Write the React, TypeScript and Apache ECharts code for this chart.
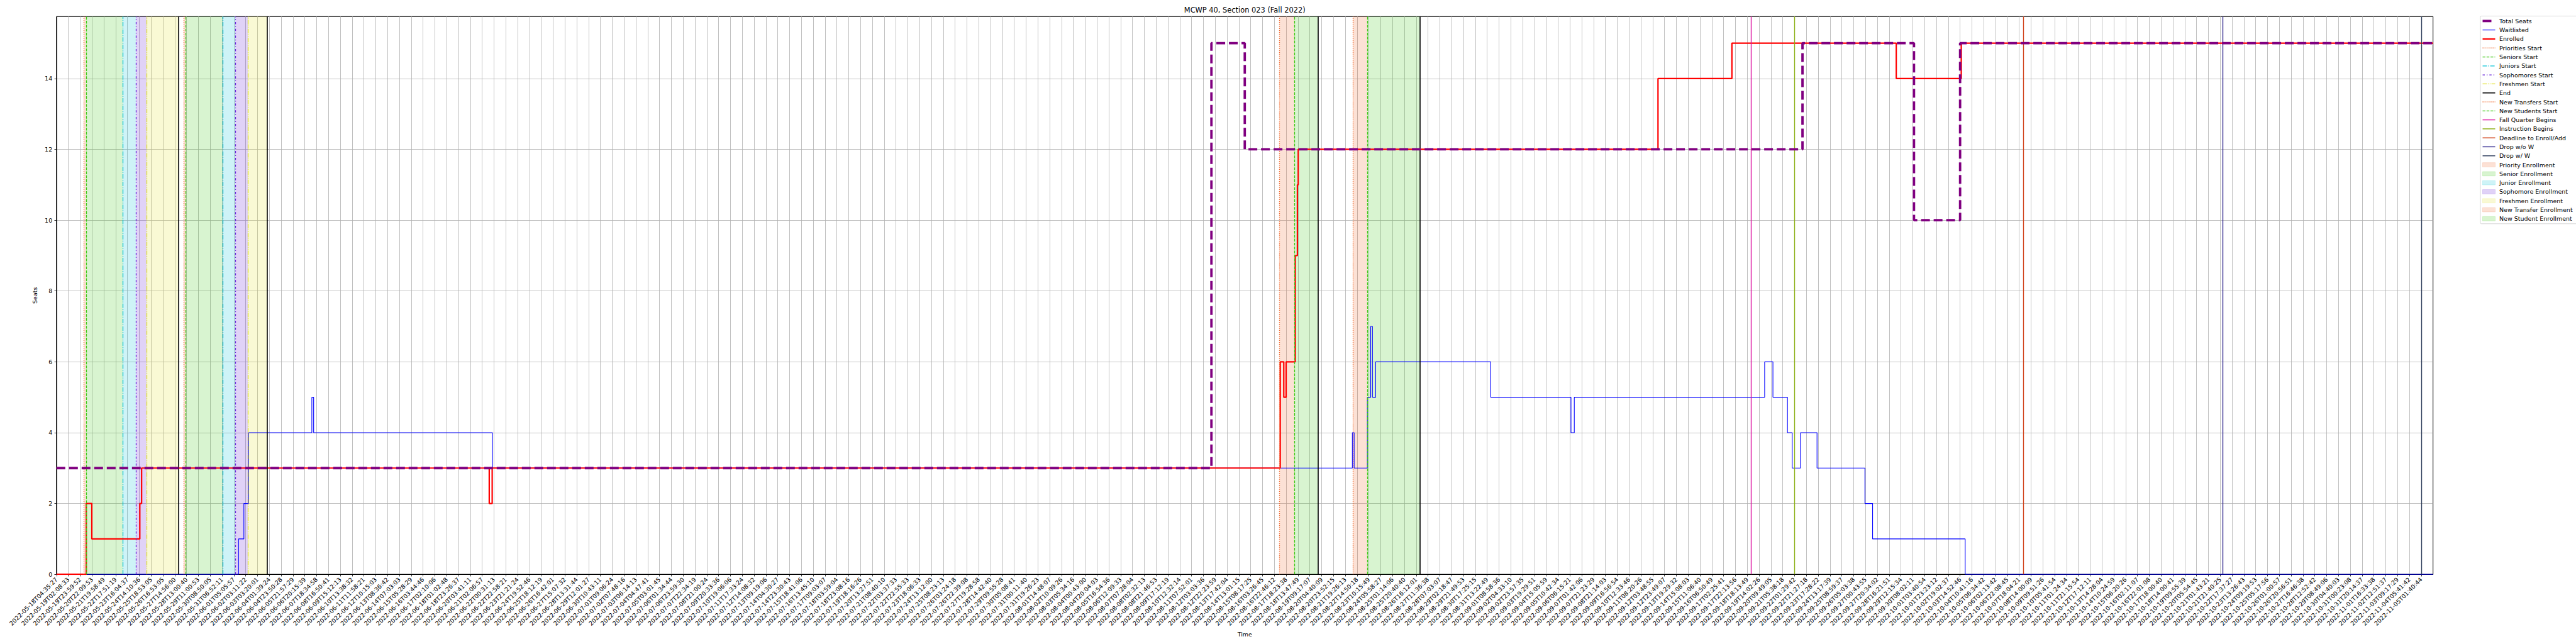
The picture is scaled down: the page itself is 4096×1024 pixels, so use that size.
import React, { useEffect, useRef } from "react";
import * as echarts from "echarts";

// ---------- data ----------
const tickLabels: string[] = [
  "2022-05-18T04:35:27", "2022-05-19T02:08:33", "2022-05-19T23:59:52", "2022-05-20T22:09:53", "2022-05-21T19:58:49",
  "2022-05-22T17:51:19", "2022-05-23T16:04:37", "2022-05-24T14:10:36", "2022-05-25T18:53:05", "2022-05-26T16:53:05",
  "2022-05-27T14:56:00", "2022-05-28T13:00:40", "2022-05-29T11:00:53", "2022-05-30T08:50:05", "2022-05-31T06:52:11",
  "2022-06-01T05:05:57", "2022-06-02T03:11:22", "2022-06-03T03:20:01", "2022-06-04T01:39:24", "2022-06-04T23:50:28",
  "2022-06-05T21:57:29", "2022-06-06T20:15:39", "2022-06-07T18:34:58", "2022-06-08T16:50:41", "2022-06-09T15:12:13",
  "2022-06-10T13:38:32", "2022-06-11T11:58:21", "2022-06-12T10:15:03", "2022-06-13T08:36:42", "2022-06-14T07:03:03",
  "2022-06-15T05:28:29", "2022-06-16T03:44:46", "2022-06-17T02:10:06", "2022-06-18T01:02:48", "2022-06-18T23:26:37",
  "2022-06-20T03:41:11", "2022-06-21T02:06:57", "2022-06-22T00:31:13", "2022-06-22T22:58:21", "2022-06-23T21:21:24",
  "2022-06-24T19:52:46", "2022-06-25T18:12:19", "2022-06-26T16:42:01", "2022-06-27T15:07:32", "2022-06-28T13:31:44",
  "2022-06-29T12:01:27", "2022-06-30T10:43:11", "2022-07-01T09:06:24", "2022-07-02T07:48:16", "2022-07-03T06:14:13",
  "2022-07-04T04:47:41", "2022-07-05T03:01:45", "2022-07-06T01:34:44", "2022-07-06T23:59:30", "2022-07-07T22:34:19",
  "2022-07-08T21:00:24", "2022-07-09T20:33:36", "2022-07-10T19:06:06", "2022-07-11T17:33:24", "2022-07-12T14:08:32",
  "2022-07-13T09:19:06", "2022-07-14T04:30:27", "2022-07-14T23:30:43", "2022-07-15T18:41:06", "2022-07-16T13:45:10",
  "2022-07-17T09:03:07", "2022-07-18T03:59:04", "2022-07-18T23:08:16", "2022-07-19T18:16:26", "2022-07-20T13:27:51",
  "2022-07-21T08:40:10", "2022-07-22T03:37:33", "2022-07-22T22:55:33", "2022-07-23T18:06:33", "2022-07-24T13:12:00",
  "2022-07-25T08:23:13", "2022-07-26T03:24:18", "2022-07-26T22:39:08", "2022-07-27T19:28:58", "2022-07-28T14:42:40",
  "2022-07-29T09:55:28", "2022-07-30T05:08:41", "2022-07-31T00:11:40", "2022-07-31T19:26:23", "2022-08-01T14:48:07",
  "2022-08-02T10:09:26", "2022-08-03T05:34:16", "2022-08-04T00:43:00", "2022-08-04T20:04:03", "2022-08-05T16:54:36",
  "2022-08-06T12:09:33", "2022-08-07T07:28:04", "2022-08-08T02:32:13", "2022-08-08T21:46:53", "2022-08-09T17:12:19",
  "2022-08-10T12:32:14", "2022-08-11T07:52:01", "2022-08-12T03:03:36", "2022-08-12T22:23:59", "2022-08-13T17:42:04",
  "2022-08-14T13:01:15", "2022-08-15T08:17:25", "2022-08-16T03:26:45", "2022-08-16T22:46:12", "2022-08-17T18:23:38",
  "2022-08-18T13:47:49", "2022-08-19T09:17:07", "2022-08-20T04:40:09", "2022-08-20T23:52:15", "2022-08-21T19:26:13",
  "2022-08-22T14:50:18", "2022-08-23T10:15:49", "2022-08-24T05:58:27", "2022-08-25T01:14:06", "2022-08-25T20:40:40",
  "2022-08-26T16:12:01", "2022-08-27T11:36:38", "2022-08-28T07:03:07", "2022-08-29T02:18:47", "2022-08-29T21:49:53",
  "2022-08-30T17:25:15", "2022-08-31T13:22:49", "2022-09-01T08:58:36", "2022-09-02T04:33:10", "2022-09-02T23:57:35",
  "2022-09-03T19:29:51", "2022-09-04T15:05:59", "2022-09-05T10:42:34", "2022-09-06T06:15:21", "2022-09-07T01:42:06",
  "2022-09-07T21:23:29", "2022-09-08T21:14:03", "2022-09-09T16:56:54", "2022-09-10T12:33:46", "2022-09-11T08:20:26",
  "2022-09-12T03:48:55", "2022-09-12T23:49:07", "2022-09-13T19:29:32", "2022-09-14T15:08:03", "2022-09-15T11:06:40",
  "2022-09-16T06:50:49", "2022-09-17T02:25:41", "2022-09-17T22:13:56", "2022-09-18T18:13:49", "2022-09-19T14:02:26",
  "2022-09-20T09:49:05", "2022-09-21T05:38:18", "2022-09-22T01:29:42", "2022-09-22T21:27:18", "2022-09-23T17:28:22",
  "2022-09-24T13:17:39", "2022-09-25T08:59:37", "2022-09-26T05:03:38", "2022-09-27T00:43:55", "2022-09-27T20:34:02",
  "2022-09-28T16:21:51", "2022-09-29T12:15:34", "2022-09-30T08:02:11", "2022-10-01T03:40:54", "2022-10-01T23:23:12",
  "2022-10-02T19:02:37", "2022-10-03T14:52:46", "2022-10-04T10:41:16", "2022-10-05T06:34:42", "2022-10-06T02:13:42",
  "2022-10-06T22:08:45", "2022-10-07T18:04:21", "2022-10-08T14:00:09", "2022-10-09T09:51:26", "2022-10-10T05:41:54",
  "2022-10-11T01:24:34", "2022-10-11T21:15:54", "2022-10-12T17:12:11", "2022-10-13T14:28:04", "2022-10-14T10:24:59",
  "2022-10-15T06:20:26", "2022-10-16T02:11:07", "2022-10-16T22:01:08", "2022-10-17T18:00:40", "2022-10-18T14:00:41",
  "2022-10-19T09:55:39", "2022-10-20T05:54:45", "2022-10-21T01:43:21", "2022-10-21T21:40:25", "2022-10-22T17:37:27",
  "2022-10-23T13:26:43", "2022-10-24T09:19:53", "2022-10-25T05:17:56", "2022-10-26T01:00:57", "2022-10-26T20:56:51",
  "2022-10-27T16:46:38", "2022-10-28T12:52:42", "2022-10-29T08:49:06", "2022-10-30T04:40:03", "2022-10-31T00:23:08",
  "2022-10-31T20:14:37", "2022-11-01T16:33:38", "2022-11-02T12:51:37", "2022-11-03T09:17:29", "2022-11-04T05:41:42",
  "2022-11-05T01:40:44",
];

// step change points: [position in tick units, seats]
const totalSeats: number[][] = [
  [0, 3], [97.68, 15], [100.5, 12], [147.67, 15], [157.1, 10], [161.0, 15], [201, 15],
];
const waitlisted: number[][] = [
  [0, 0], [15.4, 1], [15.85, 2], [16.25, 4], [21.6, 5], [21.75, 4], [36.87, 3],
  [109.6, 4], [109.75, 3], [110.87, 5], [111.15, 7], [111.3, 5], [111.57, 6],
  [121.3, 5], [128.09, 4], [128.37, 5], [144.47, 6], [145.17, 5], [146.4, 4],
  [146.8, 3], [147.5, 4], [148.9, 3], [152.95, 2], [153.6, 1], [161.43, 0], [201, 0],
];
const enrolled: number[][] = [
  [0, 0], [2.52, 2], [2.99, 1], [7.05, 2], [7.2, 3], [36.6, 2], [36.85, 3],
  [103.5, 6], [103.8, 5], [104.0, 6], [104.77, 9], [104.95, 11], [105.02, 12],
  [135.45, 14], [141.7, 15], [155.6, 14], [161.1, 15], [201, 15],
];

// event lines (tick units)
const prioritiesStart = [2.33, 10.76];
const seniorsStart = [2.5, 10.93];
const juniorsStart = [5.62, 14.04];
const sophomoresStart = [6.71, 15.13];
const freshmenStart = [7.62, 16.19];
const endLines = [10.3, 17.82, 106.7, 115.33];
const newTransfersStart = [103.44, 109.64];
const newStudentsStart = [104.71, 110.87];
const fallQuarterBegins = [143.33];
const instructionBegins = [146.98];
const deadlineEnrollAdd = [166.36];
const dropWithoutW = [183.2];
const dropWithW = [200.0];

// shaded periods
const priorityEnrollment = [[2.33, 2.5], [10.76, 10.93]];
const seniorEnrollment = [[2.5, 5.62], [10.93, 14.04]];
const juniorEnrollment = [[5.62, 6.71], [14.04, 15.13]];
const sophomoreEnrollment = [[6.71, 7.62], [15.13, 16.19]];
const freshmenEnrollment = [[7.62, 10.3], [16.19, 17.82]];
const newTransferEnrollment = [[103.44, 104.71], [109.64, 110.87]];
const newStudentEnrollment = [[104.71, 106.7], [110.87, 115.33]];

const yTicks = [0, 2, 4, 6, 8, 10, 12, 14];

// ---------- styles ----------
const FONT = "DejaVu Sans";
const DOT = [1.3, 1.9];
const DASH = [4.4, 1.9];
const DASHDOT = [7, 1.9, 1.3, 1.9];
const SOPH = [3.5, 3, 1.3, 3];
const FRESH = [7, 1.5, 1.3, 1.5, 1.3, 1.5];

const C_PRI = "#ef6a2f";
const C_SEN = "#3cc814";
const C_JUN = "#0ac4d6";
const C_SOP = "#6420d8";
const C_FRE = "#e0e028";

const vlines = [
  { name: "Priorities Start", xs: prioritiesStart, color: C_PRI, width: 1.3, dash: DOT },
  { name: "Seniors Start", xs: seniorsStart, color: C_SEN, width: 1.3, dash: DASH },
  { name: "Juniors Start", xs: juniorsStart, color: C_JUN, width: 1.3, dash: DASHDOT },
  { name: "Sophomores Start", xs: sophomoresStart, color: C_SOP, width: 1.3, dash: SOPH },
  { name: "Freshmen Start", xs: freshmenStart, color: C_FRE, width: 1.3, dash: FRESH },
  { name: "End", xs: endLines, color: "#000000", width: 1.6, dash: "solid" as any },
  { name: "New Transfers Start", xs: newTransfersStart, color: C_PRI, width: 1.3, dash: DOT },
  { name: "New Students Start", xs: newStudentsStart, color: C_SEN, width: 1.3, dash: DASH },
  { name: "Fall Quarter Begins", xs: fallQuarterBegins, color: "#dc14a0", width: 1.4, dash: "solid" as any },
  { name: "Instruction Begins", xs: instructionBegins, color: "#8caf14", width: 1.4, dash: "solid" as any },
  { name: "Deadline to Enroll/Add", xs: deadlineEnrollAdd, color: "#d2461e", width: 1.4, dash: "solid" as any },
  { name: "Drop w/o W", xs: dropWithoutW, color: "#2d238c", width: 1.4, dash: "solid" as any },
  { name: "Drop w/ W", xs: dropWithW, color: "#2d3c5a", width: 1.4, dash: "solid" as any },
];

const areas = [
  { name: "Priority Enrollment", ranges: priorityEnrollment, rgb: "239,106,47" },
  { name: "Senior Enrollment", ranges: seniorEnrollment, rgb: "60,200,20" },
  { name: "Junior Enrollment", ranges: juniorEnrollment, rgb: "10,196,214" },
  { name: "Sophomore Enrollment", ranges: sophomoreEnrollment, rgb: "100,32,216" },
  { name: "Freshmen Enrollment", ranges: freshmenEnrollment, rgb: "224,224,40" },
  { name: "New Transfer Enrollment", ranges: newTransferEnrollment, rgb: "239,106,47" },
  { name: "New Student Enrollment", ranges: newStudentEnrollment, rgb: "60,200,20" },
];

const dataLines = [
  { name: "Total Seats", color: "#800080", width: 3.8, dash: [14, 6] },
  { name: "Waitlisted", color: "#0000ff", width: 1.1, dash: "solid" as any },
  { name: "Enrolled", color: "#ff0000", width: 2.2, dash: "solid" as any },
];

export default function App() {
  const ref = useRef<HTMLDivElement>(null);

  useEffect(() => {
    document.body.style.margin = "0";
    const chart = echarts.init(ref.current!, null, { renderer: "svg" });
    const xMax = tickLabels.length; // right edge of the axes

    const gridLeft = 89.8;
    const gridTop = 26.3;
    const gridRight = 4096 - 3868.7;
    const gridBottom = 1024 - 913.2;

    const series: any[] = [];

    areas.forEach((a) => {
      series.push({
        name: a.name,
        type: "line",
        data: [],
        silent: true,
        markArea: {
          silent: true,
          itemStyle: { color: `rgba(${a.rgb},0.2)` },
          data: a.ranges.map(([s, e]) => [{ xAxis: s }, { xAxis: e }]),
        },
      });
    });

    series.push({
      name: "Waitlisted",
      type: "line",
      step: "end",
      data: waitlisted,
      showSymbol: false,
      symbol: "none",
      z: 3,
      lineStyle: { color: "#0000ff", width: 1.1 },
    });
    series.push({
      name: "Enrolled",
      type: "line",
      step: "end",
      data: enrolled,
      showSymbol: false,
      symbol: "none",
      z: 4,
      lineStyle: { color: "#ff0000", width: 2.2 },
    });
    series.push({
      name: "Total Seats",
      type: "line",
      step: "end",
      data: totalSeats,
      showSymbol: false,
      symbol: "none",
      z: 5,
      lineStyle: { color: "#800080", width: 3.8, type: [14, 6], cap: "butt" },
    });

    vlines.forEach((v) => {
      series.push({
        name: v.name,
        type: "line",
        data: [],
        silent: true,
        markLine: {
          silent: true,
          symbol: ["none", "none"],
          label: { show: false },
          emphasis: { disabled: true },
          lineStyle: { color: v.color, width: v.width, type: v.dash, cap: "butt" },
          data: v.xs.map((x) => ({ xAxis: x })),
        },
      });
    });

    // legend built from graphic elements
    const legendEntries: any[] = [
      ...dataLines.map((d) => ({ kind: "line", name: d.name, color: d.color, width: d.width, dash: d.dash })),
      ...vlines.map((v) => ({ kind: "line", name: v.name, color: v.color, width: v.width, dash: v.dash })),
      ...areas.map((a) => ({ kind: "rect", name: a.name, rgb: a.rgb })),
    ];
    const lgX = 3943.8;
    const lgY = 25.5;
    const rowH = 14.29;
    const firstY = 33.4;
    const hx1 = 3947.5;
    const hx2 = 3967.5;
    const tx = 3974;
    const graphics: any[] = [
      {
        type: "rect",
        shape: { x: lgX, y: lgY, width: 220, height: firstY - lgY + rowH * (legendEntries.length - 1) + 8, r: 2 },
        style: { fill: "rgba(255,255,255,0.8)", stroke: "#cccccc", lineWidth: 0.8 },
        z: 100,
      },
    ];
    legendEntries.forEach((e, i) => {
      const yc = firstY + rowH * i;
      if (e.kind === "line") {
        graphics.push({
          type: "line",
          shape: { x1: hx1, y1: yc, x2: hx2, y2: yc },
          style: {
            stroke: e.color,
            lineWidth: e.width,
            lineDash: Array.isArray(e.dash) ? e.dash : null,
            lineCap: "butt",
          },
          z: 101,
        });
      } else {
        graphics.push({
          type: "rect",
          shape: { x: hx1, y: yc - 3.4, width: hx2 - hx1, height: 6.8 },
          style: { fill: `rgba(${e.rgb},0.2)`, stroke: `rgba(${e.rgb},0.25)`, lineWidth: 0.7 },
          z: 101,
        });
      }
      graphics.push({
        type: "text",
        x: tx,
        y: yc,
        style: {
          text: e.name,
          fontFamily: FONT,
          fontSize: 9.5,
          fill: "#000",
          textVerticalAlign: "middle",
          verticalAlign: "middle",
        },
        z: 101,
      });
    });
    graphics.push({
      type: "text",
      x: (gridLeft + 3868.7) / 2,
      y: 16,
      style: {
        text: "MCWP 40, Section 023 (Fall 2022)",
        fontFamily: FONT,
        fontSize: 11.4,
        fill: "#000",
        textAlign: "center",
        align: "center",
        textVerticalAlign: "middle",
        verticalAlign: "middle",
      },
    });

    const option: any = {
      animation: false,
      backgroundColor: "#ffffff",
      textStyle: { fontFamily: FONT },
      grid: {
        left: gridLeft,
        top: gridTop,
        right: gridRight,
        bottom: gridBottom,
        show: true,
        borderColor: "#000",
        borderWidth: 1,
        backgroundColor: "transparent",
        containLabel: false,
      },
      xAxis: {
        type: "value",
        min: 0,
        max: xMax,
        interval: 1,
        name: "Time",
        nameLocation: "middle",
        nameGap: 89,
        nameTextStyle: { fontFamily: FONT, fontSize: 9.5, color: "#000" },
        axisLine: { show: true, lineStyle: { color: "#000", width: 1 } },
        axisTick: {
          show: true,
          length: 3.3,
          lineStyle: { color: "#000", width: 0.8 },
          customValues: tickLabels.map((_, i) => i),
        },
        axisLabel: {
          show: true,
          rotate: 45,
          margin: 6.6,
          fontFamily: FONT,
          fontSize: 9.5,
          color: "#000",
          customValues: tickLabels.map((_, i) => i),
          formatter: (v: number) => {
            const i = Math.round(v);
            return Math.abs(v - i) < 1e-6 && i >= 0 && i < tickLabels.length ? tickLabels[i] : "";
          },
        },
        splitLine: { show: true, lineStyle: { color: "#b0b0b0", width: 0.8 } },
      },
      yAxis: {
        type: "value",
        min: 0,
        max: 15.75,
        interval: 2,
        name: "Seats",
        nameLocation: "middle",
        nameGap: 22,
        nameTextStyle: { fontFamily: FONT, fontSize: 9.5, color: "#000" },
        axisLine: { show: true, lineStyle: { color: "#000", width: 1 } },
        axisTick: {
          show: true,
          length: 3.3,
          lineStyle: { color: "#000", width: 0.8 },
          customValues: yTicks,
        },
        axisLabel: {
          show: true,
          margin: 6.6,
          fontFamily: FONT,
          fontSize: 9.5,
          color: "#000",
          customValues: yTicks,
          formatter: (v: number) => (yTicks.indexOf(v) >= 0 ? String(v) : ""),
        },
        splitLine: { show: true, lineStyle: { color: "#b0b0b0", width: 0.8 } },
      },
      graphic: graphics,
      series,
    };

    chart.setOption(option);
    return () => chart.dispose();
  }, []);

  return (
    <div
      ref={ref}
      style={{ position: "absolute", left: 0, top: 0, width: 4096, height: 1024 }}
    />
  );
}
